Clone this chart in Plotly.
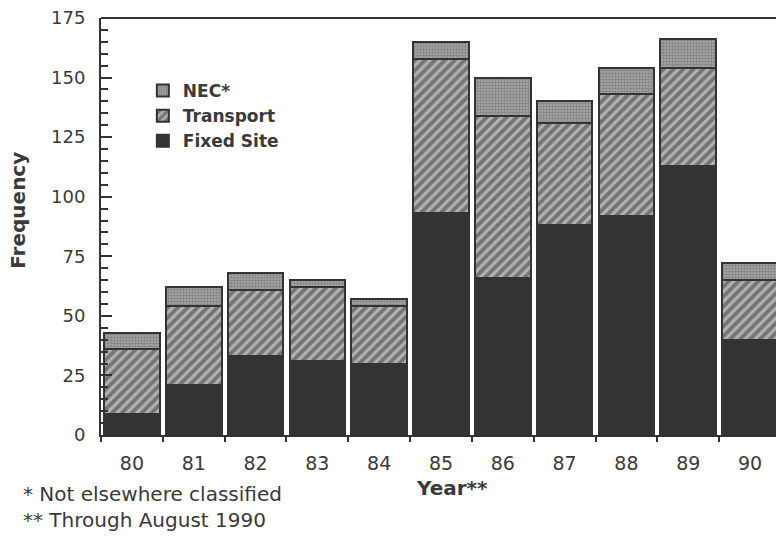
import plotly.graph_objects as go

years = ["80", "81", "82", "83", "84", "85", "86", "87", "88", "89", "90"]
fixed_site = [9, 21, 33, 31, 30, 93, 66, 88, 92, 113, 40]
transport = [27, 33, 28, 31, 24, 65, 68, 43, 51, 41, 25]
nec = [7, 8, 7, 3, 3, 7, 16, 9, 11, 12, 7]

y_ticks = [0, 25, 50, 75, 100, 125, 150, 175]

DARK = "#333333"
TXT = "#3a3a3a"
FONT = "DejaVu Sans, Verdana, sans-serif"

fig = go.Figure()
fig.add_trace(go.Bar(
    x=years, y=fixed_site, name="Fixed Site",
    marker=dict(color=DARK, line=dict(color=DARK, width=2)),
))
fig.add_trace(go.Bar(
    x=years, y=transport, name="Transport",
    marker=dict(color="#a8a8a8", line=dict(color=DARK, width=2),
                pattern=dict(shape="/", fgcolor="#363636", bgcolor="#b2b2b2",
                             size=7, solidity=0.55)),
))
fig.add_trace(go.Bar(
    x=years, y=nec, name="NEC*",
    marker=dict(color="#909090", line=dict(color=DARK, width=2),
                pattern=dict(shape=".", fgcolor="#5e5e5e", bgcolor="#a8a8a8",
                             size=3, solidity=0.5)),
))

fig.update_layout(
    barmode="stack",
    bargap=0.1,
    width=776, height=536,
    margin=dict(l=101, r=0, t=18, b=101, autoexpand=False),
    paper_bgcolor="white", plot_bgcolor="white",
    font=dict(family=FONT, color=TXT, size=17),
    showlegend=True,
    legend=dict(x=0.062, y=0.868, xanchor="left", yanchor="top",
                traceorder="reversed", bgcolor="rgba(0,0,0,0)",
                font=dict(size=17, family=FONT, color=TXT, weight="bold"),
                itemwidth=30, tracegroupgap=0),
)

fig.update_xaxes(
    range=[-0.5, 10.42], automargin=False,
    showline=True, linecolor=DARK, linewidth=2, mirror=False,
    ticks="outside", tickson="boundaries", ticklen=5, tickwidth=2, tickcolor=DARK,
    ticklabelstandoff=10,
    tickfont=dict(size=19, family=FONT, color=TXT),
    showgrid=False, zeroline=False,
)
fig.update_yaxes(
    range=[0, 175], automargin=False,
    tickvals=y_ticks,
    showline=True, linecolor=DARK, linewidth=2, mirror=False,
    ticks="inside", ticklen=11, tickwidth=2, tickcolor=DARK,
    ticklabelstandoff=10,
    minor=dict(ticks="inside", dtick=5, ticklen=7, tickwidth=1.5, tickcolor=DARK, showgrid=False),
    tickfont=dict(size=18, family=FONT, color=TXT),
    showgrid=False, zeroline=False,
)

# top frame line
fig.add_shape(type="line", xref="paper", yref="paper", x0=0, x1=1, y0=1, y1=1,
              line=dict(color=DARK, width=2))

fig.add_annotation(text="Frequency", textangle=-90, xref="paper", yref="paper",
                   x=-0.123, y=0.54, xanchor="center", yanchor="middle", showarrow=False,
                   font=dict(size=20, family=FONT, color=TXT, weight="bold"))
fig.add_annotation(text="Year**", xref="paper", yref="paper",
                   x=0.52, y=-0.127, xanchor="center", yanchor="middle", showarrow=False,
                   font=dict(size=20, family=FONT, color=TXT, weight="bold"))
fig.add_annotation(text="* Not elsewhere classified", xref="paper", yref="paper",
                   x=-0.119, y=-0.1415, xanchor="left", yanchor="middle", showarrow=False,
                   font=dict(size=20, family=FONT, color=TXT))
fig.add_annotation(text="** Through August 1990", xref="paper", yref="paper",
                   x=-0.119, y=-0.204, xanchor="left", yanchor="middle", showarrow=False,
                   font=dict(size=20, family=FONT, color=TXT))

fig.write_html("out.html", config={"displayModeBar": False},
               post_script="document.body.style.margin='0';")
